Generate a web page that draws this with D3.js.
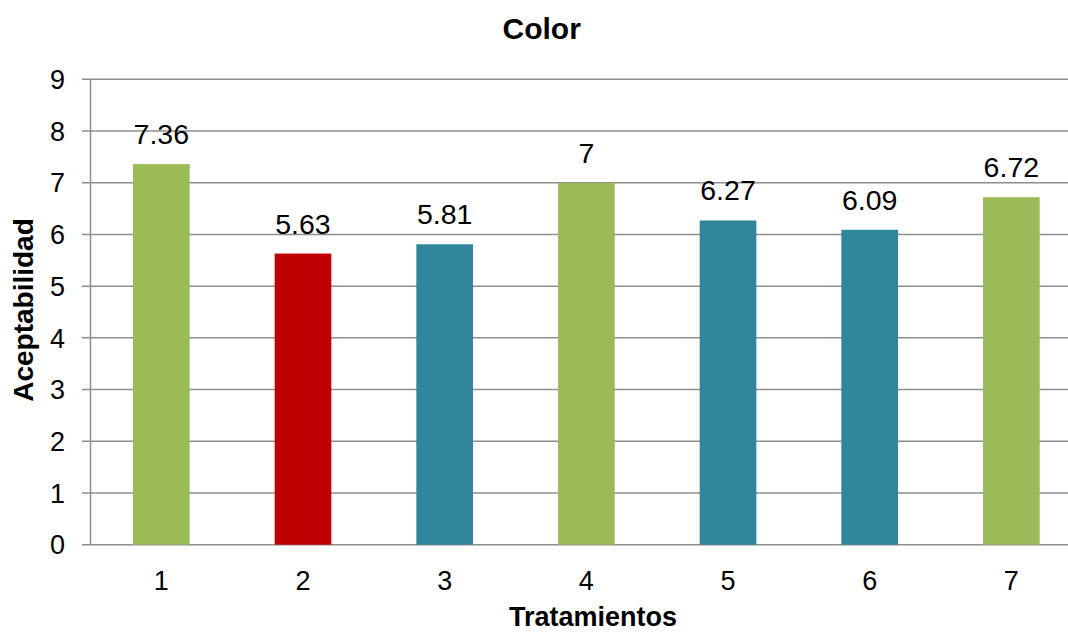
<!DOCTYPE html>
<html><head><meta charset="utf-8">
<script src="https://cdn.jsdelivr.net/npm/d3@7"></script>
<style>body{margin:0;background:#fff;} svg{display:block;font-family:Arial, "Liberation Sans", sans-serif;}</style>
</head><body>
<svg id="c" width="1068" height="632"></svg>
<script>
const categories = ["1","2","3","4","5","6","7"];
const values = [7.36, 5.63, 5.81, 7, 6.27, 6.09, 6.72];
const barColors = ["#9BBB59","#C00000","#31859C","#9BBB59","#31859C","#31859C","#9BBB59"];
const yTicks = [0,1,2,3,4,5,6,7,8,9];
const labels = ["7.36","5.63","5.81","7","6.27","6.09","6.72"];

const svg = d3.select("#c");
const x = d3.scaleBand().domain(categories).range([90.5, 1082.2]).paddingInner(0.6).paddingOuter(0.3);
const y = d3.scaleLinear().domain([0,9]).range([544.7, 79.3]);

// gridlines
svg.append("g").selectAll("line").data(yTicks).join("line")
  .attr("x1", 82).attr("x2", 1068)
  .attr("y1", d => y(d)).attr("y2", d => y(d))
  .attr("stroke", "#8e8e8e").attr("stroke-width", 1.5);

// left axis line
svg.append("line").attr("x1", 90.5).attr("x2", 90.5).attr("y1", y(9)).attr("y2", y(0))
  .attr("stroke", "#8e8e8e").attr("stroke-width", 1.5);

// y tick labels
svg.append("g").selectAll("text").data(yTicks).join("text")
  .attr("x", 65).attr("y", d => y(d)).attr("dy", "0.36em")
  .attr("text-anchor", "end").attr("font-size", 27).attr("fill", "#000")
  .text(d => d);

// bars
svg.append("g").selectAll("rect").data(values).join("rect")
  .attr("x", (d,i) => x(categories[i]))
  .attr("width", x.bandwidth())
  .attr("y", d => y(d))
  .attr("height", d => y(0) - y(d))
  .attr("fill", (d,i) => barColors[i]);

// data labels
svg.append("g").selectAll("text").data(values).join("text")
  .attr("x", (d,i) => x(categories[i]) + x.bandwidth()/2)
  .attr("y", d => y(d) - 20)
  .attr("text-anchor", "middle").attr("font-size", 28.5).attr("fill", "#000")
  .text((d,i) => labels[i]);

// x tick labels
svg.append("g").selectAll("text").data(categories).join("text")
  .attr("x", d => x(d) + x.bandwidth()/2)
  .attr("y", 590)
  .attr("text-anchor", "middle").attr("font-size", 27).attr("fill", "#000")
  .text(d => d);

// title
svg.append("text").attr("x", 541.7).attr("y", 39.3).attr("text-anchor", "middle")
  .attr("font-size", 30).attr("font-weight", "bold").text("Color");

// axis titles
svg.append("text").attr("x", 593).attr("y", 626).attr("text-anchor", "middle")
  .attr("font-size", 27).attr("font-weight", "bold").text("Tratamientos");
svg.append("text").attr("transform", "translate(33,310) rotate(-90)").attr("text-anchor", "middle")
  .attr("font-size", 28).attr("font-weight", "bold").text("Aceptabilidad");
</script>
</body></html>
